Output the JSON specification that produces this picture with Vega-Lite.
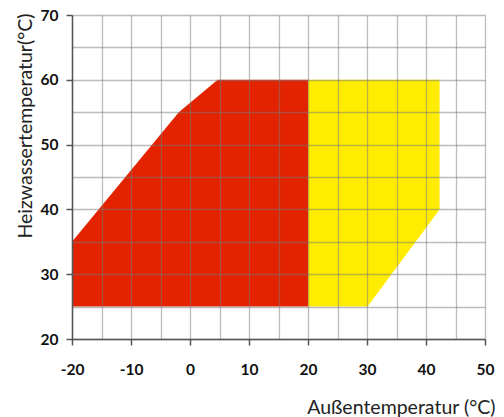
{
  "$schema": "https://vega.github.io/schema/vega-lite/v6.json",
  "width": 413,
  "height": 324,
  "autosize": {"type": "none"},
  "padding": {"left": 72, "top": 15, "right": 19, "bottom": 78},
  "background": "white",
  "config": {"view": {"stroke": null}, "font": "Lato"},
  "data": {
    "values": [
      {"x": -20, "y": 35, "y2": 25, "zone": "A"},
      {"x": -1.9, "y": 55, "y2": 25, "zone": "A"},
      {"x": 4.7, "y": 60, "y2": 25, "zone": "A"},
      {"x": 20, "y": 60, "y2": 25, "zone": "A"},
      {"x": 20, "y": 60, "y2": 25, "zone": "B"},
      {"x": 30.1, "y": 60, "y2": 25, "zone": "B"},
      {"x": 42.3, "y": 60, "y2": 40, "zone": "B"}
    ]
  },
  "mark": {"type": "area", "opacity": 1, "interpolate": "linear"},
  "encoding": {
    "x": {
      "field": "x", "type": "quantitative",
      "scale": {"domain": [-20, 50], "nice": false, "zero": false},
      "axis": {
        "values": [-20, -15, -10, -5, 0, 5, 10, 15, 20, 25, 30, 35, 40, 45, 50],
        "labelExpr": "datum.value % 10 === 0 ? (datum.value < 0 ? '-' + abs(datum.value) : '' + datum.value) : ''",
        "tickOpacity": {"condition": {"test": "datum.value % 10 === 0", "value": 1}, "value": 0},
        "zindex": 1,
        "grid": true, "gridColor": "#7a7a7a", "gridOpacity": 0.5, "gridWidth": 1.3,
        "domainColor": "#555555", "domainWidth": 1.5,
        "tickColor": "#555555", "tickWidth": 1.5, "tickSize": 6,
        "labelFont": "Lato", "labelFontWeight": "bold", "labelFontSize": 15.5, "labelColor": "#111111",
        "labelPadding": 17, "labelFlush": false, "labelOverlap": false,
        "title": "Außentemperatur (°C)",
        "titleFont": "Lato", "titleFontWeight": "normal", "titleFontSize": 19.5, "titleColor": "#222222",
        "titleX": 423, "titleY": 74, "titleAlign": "right", "titleBaseline": "alphabetic"
      }
    },
    "y": {
      "field": "y", "type": "quantitative",
      "scale": {"domain": [20, 70], "nice": false, "zero": false},
      "axis": {
        "values": [20, 25, 30, 35, 40, 45, 50, 55, 60, 65, 70],
        "labelExpr": "datum.value % 10 === 0 ? '' + datum.value : ''",
        "tickOpacity": {"condition": {"test": "datum.value % 10 === 0", "value": 1}, "value": 0},
        "zindex": 1,
        "grid": true, "gridColor": "#7a7a7a", "gridOpacity": 0.5, "gridWidth": 1.3,
        "domainColor": "#555555", "domainWidth": 1.5,
        "tickColor": "#555555", "tickWidth": 1.5, "tickSize": 6,
        "labelFont": "Lato", "labelFontWeight": "bold", "labelFontSize": 15.5, "labelColor": "#111111",
        "labelPadding": 8, "labelFlush": false, "labelOverlap": false,
        "title": "Heizwassertemperatur(°C)",
        "titleFont": "Lato", "titleFontWeight": "normal", "titleFontSize": 19.5, "titleColor": "#222222",
        "titleAngle": -90, "titleX": -47, "titleY": -2, "titleAlign": "right", "titleBaseline": "middle"
      }
    },
    "y2": {"field": "y2"},
    "color": {
      "field": "zone", "type": "nominal",
      "scale": {"domain": ["A", "B"], "range": ["#e32200", "#ffec00"]},
      "legend": null
    }
  }
}
